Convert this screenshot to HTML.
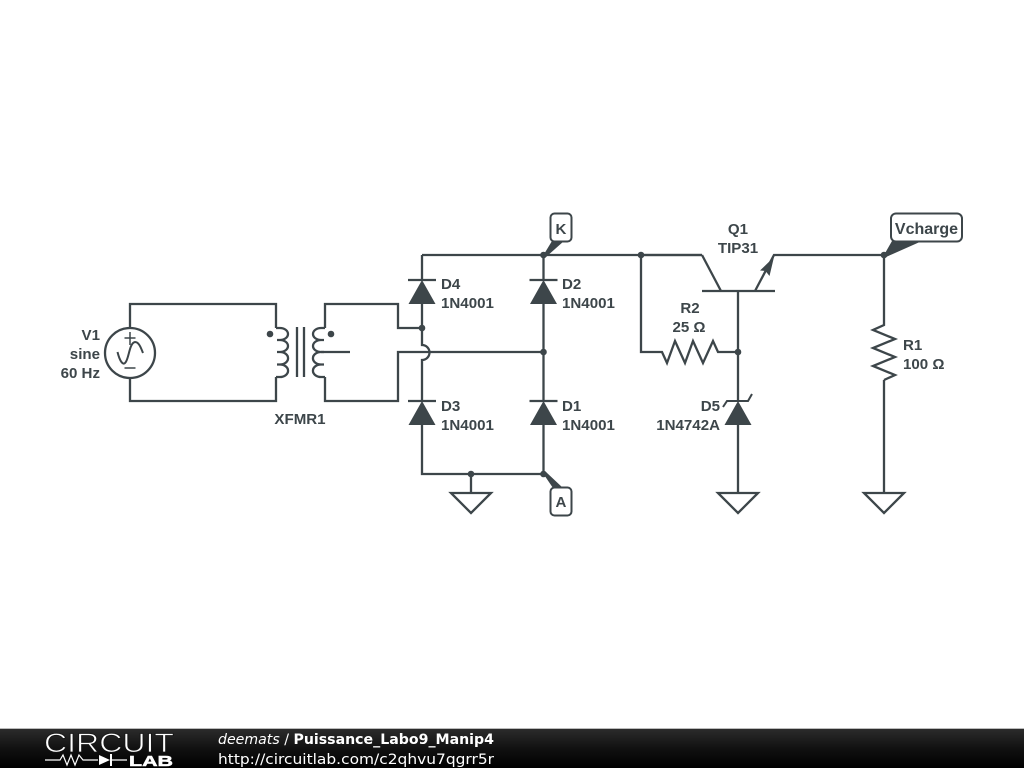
<!DOCTYPE html>
<html><head><meta charset="utf-8"><style>
html,body{margin:0;padding:0;background:#fff;width:1024px;height:768px;overflow:hidden}
svg{display:block}
.w{fill:none;stroke:#3d464a;stroke-width:2.3;stroke-linejoin:miter}
.f{fill:#3d464a;stroke:none}
.t{font-family:"Liberation Sans",sans-serif;font-weight:bold;font-size:15.1px;fill:#3d464a}
.e{text-anchor:end}.m{text-anchor:middle}
.d{font-family:"DejaVu Sans",sans-serif;font-size:14.5px;fill:#fff}
</style></head><body>
<svg width="1024" height="768" viewBox="0 0 1024 768" xmlns="http://www.w3.org/2000/svg">
<defs><linearGradient id="g" x1="0" y1="0" x2="0" y2="1"><stop offset="0" stop-color="#2b2b2b"/><stop offset=".5" stop-color="#111"/><stop offset="1" stop-color="#000"/></linearGradient></defs>
<rect width="1024" height="768" fill="#fff"/>

<!-- primary wires -->
<path class="w" d="M130 328V304H276V328M130 378V401H276V377"/>
<circle class="w" cx="130" cy="353" r="25"/>
<path class="w" style="stroke-width:1.5" d="M130 332V345M124.500 338H135.500M124.500 368H135.500"/>
<path class="w" style="stroke-width:2" d="M117.500 352C120 362 123 365 125 363C129 360 129 343 135 342C139 342 141 348 143 353"/>
<!-- transformer -->
<path class="w" d="M276 328H280A8 6 0 0 1 280 340H277M277 340H280A8 6 0 0 1 280 352H277M277 352H280A8 6.200 0 0 1 280 364.500H277M277 364.500H280A8 6.200 0 0 1 280 377H276"/>
<path class="w" d="M325 328H321A8 6 0 0 0 321 340H324M324 340H321A8 6 0 0 0 321 352H324M324 352H321A8 6.200 0 0 0 321 364.500H324M324 364.500H321A8 6.200 0 0 0 321 377H325"/>
<path class="w" d="M297 327V377M304 327V377"/>
<circle class="f" cx="270" cy="334" r="3.300"/><circle class="f" cx="331" cy="334" r="3.300"/>
<!-- secondary -->
<path class="w" d="M325 328V304H398V328H422M325 377V401H398V352H543.500M321 352H350"/>
<path class="w" d="M422 304V345A7.500 7.500 0 0 1 422 360V401M422 425V474H543.500M422 255V280M422 255H702M543.500 255V280M543.500 304V401M543.500 425V474"/>
<path class="w" d="M408 280H436M529.500 280H557.500M408 401H436M529.500 401H557.500"/>
<path class="f" d="M422 280L435.500 304H408.500ZM543.500 280L557 304H530ZM422 401L435.500 425H408.500ZM543.500 401L557 425H530Z"/>
<circle class="f" cx="422" cy="328" r="3.300"/><circle class="f" cx="543.500" cy="352" r="3.300"/><circle class="f" cx="543.500" cy="255" r="3.300"/><circle class="f" cx="543.500" cy="474" r="3.300"/><circle class="f" cx="471" cy="474" r="3.300"/>
<!-- grounds -->
<path class="w" d="M471 474V493M451 493H491L471 513ZM738 425V493M718 493H758L738 513ZM884 380V493M864 493H904L884 513Z"/>
<!-- K / A / Vcharge flags -->
<path class="f" d="M543.500 255L552 241H564L546 257ZM543.500 474L553 488H563L546 472ZM884 255L892 241H922L886 257Z"/>
<rect x="550.500" y="213.500" width="21" height="28" rx="4" fill="#fff" stroke="#3d464a" stroke-width="2"/>
<rect x="550.500" y="487.500" width="21" height="28" rx="4" fill="#fff" stroke="#3d464a" stroke-width="2"/>
<rect x="891" y="213.500" width="71" height="28" rx="5" fill="#fff" stroke="#3d464a" stroke-width="2"/>
<!-- transistor -->
<path class="w" d="M641 255V352H662L667 363L675 341L685 363L693 341L703 363L713 341L718 352H738M702 255L721 291M702 291H775M755 291L774 255H884V325L873 330L895 339L873 348L895 357L873 366L895 375L884 380M738 291V401M641 255H702"/>
<path class="f" d="M774 257L769.500 276L765.500 271L760 270.500Z"/>
<circle class="f" cx="641" cy="255" r="3.300"/><circle class="f" cx="738" cy="352" r="3.300"/><circle class="f" cx="884" cy="255" r="3.300"/>
<!-- zener -->
<path class="w" style="stroke-width:2" d="M723 407L727 401H748L752 394"/>
<path class="f" d="M738 401L751.500 425H724.500Z"/>

<!-- labels -->
<text class="t e" x="100" y="340">V1</text>
<text class="t e" x="100" y="359">sine</text>
<text class="t e" x="100" y="378">60 Hz</text>
<text class="t m" x="300" y="424">XFMR1</text>
<text class="t" x="441" y="289">D4</text><text class="t" x="441" y="308">1N4001</text>
<text class="t" x="562" y="289">D2</text><text class="t" x="562" y="308">1N4001</text>
<text class="t" x="441" y="411">D3</text><text class="t" x="441" y="430">1N4001</text>
<text class="t" x="562" y="411">D1</text><text class="t" x="562" y="430">1N4001</text>
<text class="t m" x="561" y="234">K</text>
<text class="t m" x="561" y="507">A</text>
<text class="t m" x="926.500" y="234" style="font-size:16px">Vcharge</text>
<text class="t m" x="738" y="234">Q1</text>
<text class="t m" x="738" y="253">TIP31</text>
<text class="t m" x="690" y="313">R2</text>
<text class="t m" x="689" y="332">25 Ω</text>
<text class="t" x="903" y="350">R1</text>
<text class="t" x="903" y="369">100 Ω</text>
<text class="t e" x="720" y="411">D5</text>
<text class="t e" x="720" y="430">1N4742A</text>

<!-- footer -->
<rect x="0" y="729" width="1024" height="39" fill="url(#g)"/>
<rect x="0" y="728" width="1024" height="1" fill="#bbb"/>
<text x="44" y="752" font-family="'Liberation Sans',sans-serif" font-size="27" fill="#fff" stroke="#161616" stroke-width="0.8" textLength="130" lengthAdjust="spacingAndGlyphs">CIRCUIT</text>
<path d="M45 760H60L63 755L67 765L71 755L75 765L79 755L83 760H98M112 760H127" fill="none" stroke="#fff" stroke-width="1.200"/>
<path d="M99 755L110 760L99 765Z" fill="#fff"/><path d="M111 754V766" stroke="#fff" stroke-width="2"/>
<text x="129" y="766" font-family="'Liberation Sans',sans-serif" font-weight="bold" font-size="15" fill="#fff" stroke="#fff" stroke-width="0.5" textLength="44" lengthAdjust="spacingAndGlyphs">LAB</text>
<text class="d" x="218" y="744" textLength="276" lengthAdjust="spacingAndGlyphs"><tspan font-style="italic">deemats</tspan> / <tspan font-weight="bold">Puissance_Labo9_Manip4</tspan></text>
<text class="d" x="218" y="764" textLength="276" lengthAdjust="spacingAndGlyphs">http://circuitlab.com/c2qhvu7qgrr5r</text>
</svg>
</body></html>
